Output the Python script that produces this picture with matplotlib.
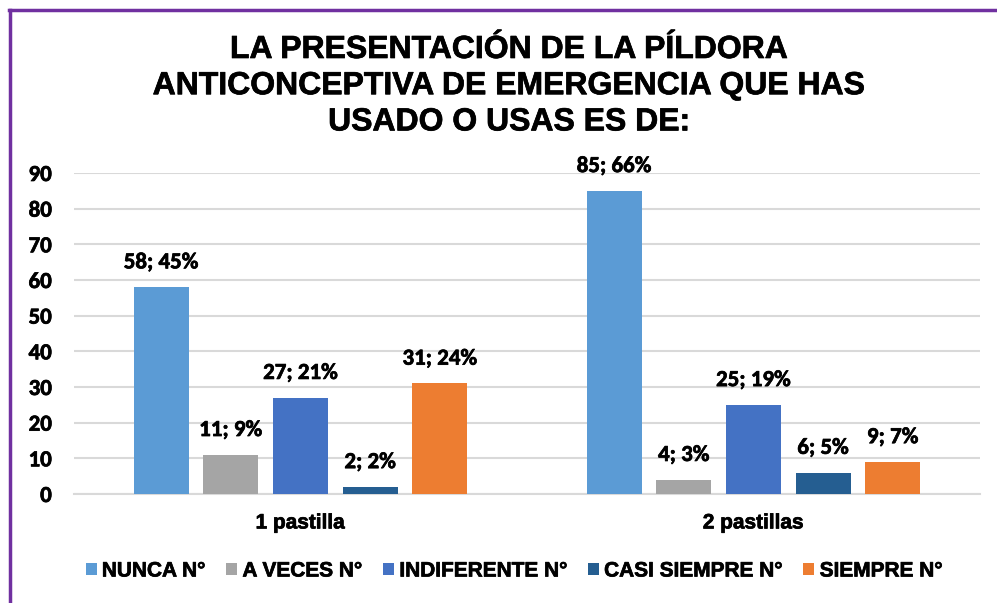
import matplotlib
matplotlib.use("Agg")
import matplotlib.pyplot as plt
import matplotlib.patheffects as pe
import numpy as np
from matplotlib.lines import Line2D

categories = ["1 pastilla", "2 pastillas"]
series = ["NUNCA N°", "A VECES N°", "INDIFERENTE N°", "CASI SIEMPRE N°", "SIEMPRE N°"]
values = [
    [58, 85],
    [11, 4],
    [27, 25],
    [2, 6],
    [31, 9],
]
percents = [
    ["45%", "66%"],
    ["9%", "3%"],
    ["21%", "19%"],
    ["2%", "5%"],
    ["24%", "7%"],
]
colors = ["#5B9BD5", "#A5A5A5", "#4472C4", "#255E91", "#ED7D31"]
title = "LA PRESENTACIÓN DE LA PÍLDORA\nANTICONCEPTIVA DE EMERGENCIA QUE HAS\nUSADO O USAS ES DE:"

thick = [pe.withStroke(linewidth=0.5, foreground="#000000")]

fig = plt.figure(figsize=(9.97, 6.03), dpi=100)
ax = fig.add_axes([74/997, 1-494/603, 906/997, 321/603])

x = np.arange(len(categories))
step = 0.1538
width = 0.121
for i, (s, vals, pcts, c) in enumerate(zip(series, values, percents, colors)):
    pos = x + (i - 2) * step
    bars = ax.bar(pos, vals, width=width, color=c, label=s, zorder=3)
    for b, v, p in zip(bars, vals, pcts):
        ax.annotate(f"{v}; {p}", (b.get_x() + b.get_width()/2, v),
                    xytext=(0, 13.5), textcoords="offset points",
                    ha="center", va="baseline", fontsize=16.5,
                    fontfamily="Carlito", fontweight="bold", color="#000000",
                    path_effects=thick)

ax.set_xlim(-0.5, 1.5)
ax.set_ylim(0, 90)
ax.set_yticks(range(0, 91, 10))
ax.set_xticks(x)
ax.set_xticklabels(categories, fontsize=15, fontfamily="Liberation Sans", fontweight="bold")
for lab in ax.get_xticklabels():
    lab.set_path_effects(thick)
for lab in ax.get_yticklabels():
    lab.set_fontfamily("Carlito")
    lab.set_fontweight("bold")
    lab.set_fontsize(16.5)
    lab.set_path_effects(thick)
ax.tick_params(axis="y", length=0, pad=16)
ax.tick_params(axis="x", length=0, pad=14)
ax.grid(axis="y", color="#D9D9D9", linewidth=1.5, zorder=0)
for sp in ["top", "right", "left"]:
    ax.spines[sp].set_visible(False)
ax.spines["bottom"].set_color("#D9D9D9")
ax.spines["bottom"].set_linewidth(1.5)
ax.spines["bottom"].set_zorder(2)

fig.text(0.511, 1-35/603, title, ha="center", va="top", fontsize=23,
         fontfamily="Liberation Sans", fontweight="bold", linespacing=1.27,
         path_effects=thick)

leg = fig.legend(loc="center", bbox_to_anchor=(514/997, 1-571/603), ncol=5,
                 frameon=False, handlelength=0.53, handleheight=0.53,
                 handletextpad=0.25, columnspacing=1.0,
                 prop={"family": "Liberation Sans", "weight": "bold", "size": 15})
for t in leg.get_texts():
    t.set_path_effects(thick)

# purple border (top and left)
fig.add_artist(Line2D([10/997, 10/997], [0, 1-10/603], transform=fig.transFigure,
                      color="#7030A0", linewidth=2.5))
fig.add_artist(Line2D([9/997, 1], [1-10/603, 1-10/603], transform=fig.transFigure,
                      color="#7030A0", linewidth=2.5))

fig.savefig("out.png", dpi=100)
